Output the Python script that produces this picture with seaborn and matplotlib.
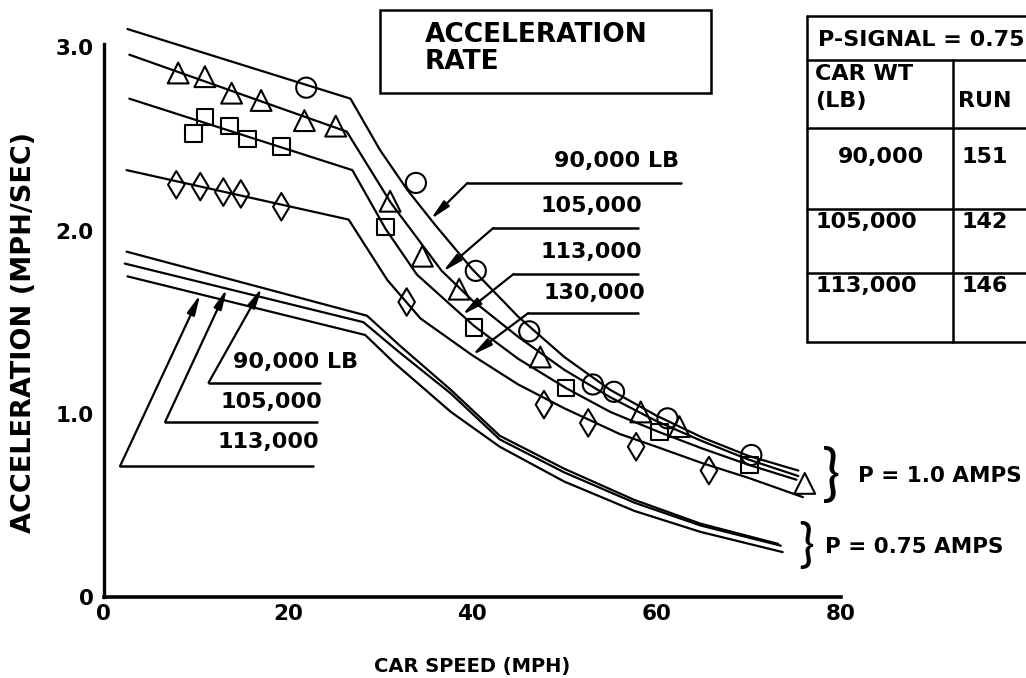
import numpy as np
import matplotlib.pyplot as plt
import matplotlib.lines as mlines
from matplotlib.patches import Rectangle
import seaborn as sns

sns.set_style("white")
plt.rcParams['font.family'] = ['DejaVu Sans']
plt.rcParams['font.weight'] = 'bold'
plt.rcParams['text.color'] = 'black'
plt.rcParams['axes.labelcolor'] = 'black'
plt.rcParams['xtick.color'] = 'black'
plt.rcParams['ytick.color'] = 'black'

# P = 1.0 AMPS curves (car speed mph, acceleration mph/sec)
speed_90k = [2.6, 26.8, 30, 33, 36, 40, 45, 50, 55, 60, 65, 70, 75.4]
accel_90k = [3.10, 2.72, 2.44, 2.22, 2.03, 1.79, 1.53, 1.31, 1.13, 0.99, 0.87, 0.77, 0.69]
speed_105k = [2.8, 26.4, 31.2, 36.7, 40, 45, 50, 55, 60, 65, 70, 75.4]
accel_105k = [2.96, 2.54, 2.15, 1.78, 1.62, 1.42, 1.24, 1.09, 0.96, 0.85, 0.75, 0.66]
speed_113k = [2.8, 27.0, 30.6, 34, 40.2, 45, 50.2, 55, 60.3, 65, 70.1, 75.2]
accel_113k = [2.72, 2.33, 2.01, 1.76, 1.48, 1.30, 1.14, 1.01, 0.90, 0.81, 0.72, 0.64]
speed_130k = [2.5, 26.6, 30.8, 34.4, 40, 45, 50, 56, 60, 65, 70, 75.9]
accel_130k = [2.33, 2.06, 1.73, 1.52, 1.32, 1.16, 1.03, 0.89, 0.82, 0.73, 0.65, 0.545]

# P = 0.75 AMPS curves
speed_90k_lo = [2.5, 28.6, 32.2, 37.7, 43, 50, 57.6, 64.8, 73.2]
accel_90k_lo = [1.885, 1.535, 1.37, 1.13, 0.88, 0.70, 0.53, 0.40, 0.29]
speed_105k_lo = [2.3, 28.2, 32, 37.7, 43, 50, 57.6, 64.8, 73.5]
accel_105k_lo = [1.82, 1.50, 1.34, 1.11, 0.86, 0.68, 0.515, 0.39, 0.28]
speed_113k_lo = [2.6, 28.4, 31.5, 37.7, 43, 50, 57.6, 64.8, 73.7]
accel_113k_lo = [1.75, 1.43, 1.28, 1.01, 0.82, 0.63, 0.47, 0.355, 0.245]

# test points
tri_speed = [8.1, 11.0, 13.9, 17.1, 21.8, 25.2, 31.1, 34.6, 38.6, 47.4, 58.3, 62.5, 76.1]
tri_accel = [2.86, 2.84, 2.75, 2.71, 2.60, 2.57, 2.16, 1.86, 1.68, 1.31, 1.01, 0.93, 0.62]
circ_speed = [22.0, 33.9, 40.4, 46.2, 53.1, 55.4, 61.2, 70.3]
circ_accel = [2.78, 2.26, 1.78, 1.45, 1.16, 1.12, 0.975, 0.775]
sq_speed = [9.8, 11.0, 13.7, 15.6, 19.3, 30.6, 40.2, 50.2, 60.3, 70.1]
sq_accel = [2.53, 2.62, 2.57, 2.50, 2.46, 2.02, 1.47, 1.14, 0.90, 0.72]
dia_speed = [7.9, 10.5, 13.0, 14.9, 19.3, 32.9, 47.8, 52.6, 57.8, 65.7]
dia_accel = [2.25, 2.24, 2.21, 2.20, 2.13, 1.61, 1.05, 0.95, 0.82, 0.69]

x_ticks = [0, 20, 40, 60, 80]
x_ticklabels = ["0", "20", "40", "60", "80"]
y_ticks = [0, 1, 2, 3]
y_ticklabels = ["0", "1.0", "2.0", "3.0"]

# table (P-SIGNAL = 0.75)
table_wt = ["90,000", "105,000", "113,000"]
table_run = ["151", "142", "146"]

fig = plt.figure(figsize=(10.26, 6.78), dpi=100)
ax = fig.add_axes([0.1009, 0.1195, 0.7185, 0.8782])

curves_hi = [(speed_90k, accel_90k), (speed_105k, accel_105k),
             (speed_113k, accel_113k), (speed_130k, accel_130k)]
curves_lo = [(speed_90k_lo, accel_90k_lo), (speed_105k_lo, accel_105k_lo),
             (speed_113k_lo, accel_113k_lo)]
for s, a in curves_hi + curves_lo:
    sns.lineplot(x=s, y=a, color='black', linewidth=1.6, estimator=None, sort=False, ax=ax)

mk = dict(facecolors='none', edgecolor='black', linewidths=1.5, ax=ax, zorder=3)
sns.scatterplot(x=tri_speed, y=tri_accel, marker='^', s=15 ** 2, **mk)
sns.scatterplot(x=circ_speed, y=circ_accel, marker='o', s=14.5 ** 2, **mk)
sns.scatterplot(x=sq_speed, y=sq_accel, marker='s', s=12 ** 2, **mk)
sns.scatterplot(x=dia_speed, y=dia_accel, marker='d', s=14 ** 2, **mk)

ax.set_xlim(0, 80)
ax.set_ylim(0, 3.25)
ax.set_xticks(x_ticks)
ax.set_xticklabels(x_ticklabels)
ax.set_yticks(y_ticks)
ax.set_yticklabels(y_ticklabels)
ax.tick_params(direction='in', length=13, width=1.6, labelsize=15.5, colors='black')
ax.tick_params(axis='y', pad=7)
ax.tick_params(axis='x', pad=5)
sns.despine(ax=ax)
ax.spines['left'].set_bounds(0, 3.02)
ax.spines['left'].set_linewidth(2.4)
ax.spines['bottom'].set_linewidth(2.6)
ax.spines['left'].set_color('black')
ax.spines['bottom'].set_color('black')

ax.set_xlabel("CAR SPEED (MPH)", fontsize=14, fontweight='bold')
ax.set_ylabel("ACCELERATION (MPH/SEC)", fontsize=19.5, fontweight='bold')
ax.xaxis.set_label_coords(0.5, -0.101)
ax.yaxis.set_label_coords(-0.09, 0.445)

# title box
ax.add_patch(Rectangle((29.95, 2.751), 35.95, 0.453, facecolor='white', edgecolor='black',
                       lw=1.8, clip_on=False, zorder=4))
ax.text(34.9, 3.068, "ACCELERATION", fontsize=19, va='center', zorder=5)
ax.text(34.9, 2.92, "RATE", fontsize=19, va='center', zorder=5)

arrow = dict(arrowstyle='-|>,head_length=0.85,head_width=0.17', color='black', lw=1.6,
             mutation_scale=14, shrinkA=0, shrinkB=0)


def label(text, tx, ty, line_x0, line_x1, line_y, tip_x, speed, accel):
    ax.text(tx, ty, text, fontsize=16, va='center')
    ax.plot([line_x0, line_x1], [line_y, line_y], color='black', lw=1.8, clip_on=False)
    tip_y = np.interp(tip_x, speed, accel)
    ax.annotate("", xy=(tip_x, tip_y), xytext=(line_x0, line_y), arrowprops=arrow)


# P = 1.0 AMPS labels
label("90,000 LB", 48.9, 2.38, 39.5, 62.7, 2.26, 35.5, speed_90k, accel_90k)
label("105,000", 47.4, 2.134, 42.3, 58.0, 2.014, 36.8, speed_105k, accel_105k)
label("113,000", 47.4, 1.883, 44.5, 58.0, 1.763, 38.9, speed_113k, accel_113k)
label("130,000", 47.7, 1.659, 46.1, 58.0, 1.55, 40.0, speed_130k, accel_130k)

# P = 0.75 AMPS labels
label("90,000 LB", 14.1, 1.284, 11.4, 23.5, 1.17, 17.2, speed_90k_lo, accel_90k_lo)
label("105,000", 12.7, 1.066, 6.7, 23.2, 0.957, 13.4, speed_105k_lo, accel_105k_lo)
label("113,000", 12.4, 0.848, 1.8, 22.7, 0.715, 10.5, speed_113k_lo, accel_113k_lo)

# braces
brace = dict(family=['Lato', 'DejaVu Sans'], fontweight='normal', ha='center', va='center')
ax.text(79.0, 0.66, "}", fontsize=44, **brace)
ax.text(81.9, 0.66, "P = 1.0 AMPS", fontsize=15.5, va='center')
ax.text(76.2, 0.28, "}", fontsize=38, **brace)
ax.text(78.3, 0.273, "P = 0.75 AMPS", fontsize=15.5, va='center')


# table at upper right (pixel positions -> figure fraction)
def fx(px):
    return px / 1026


def fy(py):
    return 1 - py / 678


for yrow in [16, 60, 128, 209, 273, 342]:
    fig.add_artist(mlines.Line2D([fx(807), 1.0], [fy(yrow), fy(yrow)], color='black', lw=1.8))
fig.add_artist(mlines.Line2D([fx(807), fx(807)], [fy(16), fy(342)], color='black', lw=1.8))
fig.add_artist(mlines.Line2D([fx(953), fx(953)], [fy(60), fy(342)], color='black', lw=1.8))

fig.text(fx(818), fy(40), "P-SIGNAL = 0.75", fontsize=16, va='center')
fig.text(fx(815), fy(74), "CAR WT", fontsize=16, va='center')
fig.text(fx(815), fy(101), "(LB)", fontsize=16, va='center')
fig.text(fx(958), fy(101), "RUN", fontsize=16, va='center')
row_y = [157, 222, 286]
row_x = [838, 815, 815]
for wt, run, ry, rx in zip(table_wt, table_run, row_y, row_x):
    fig.text(fx(rx), fy(ry), wt, fontsize=16, va='center')
    fig.text(fx(962), fy(ry), run, fontsize=16, va='center')

fig.savefig("out.png", dpi=100)
